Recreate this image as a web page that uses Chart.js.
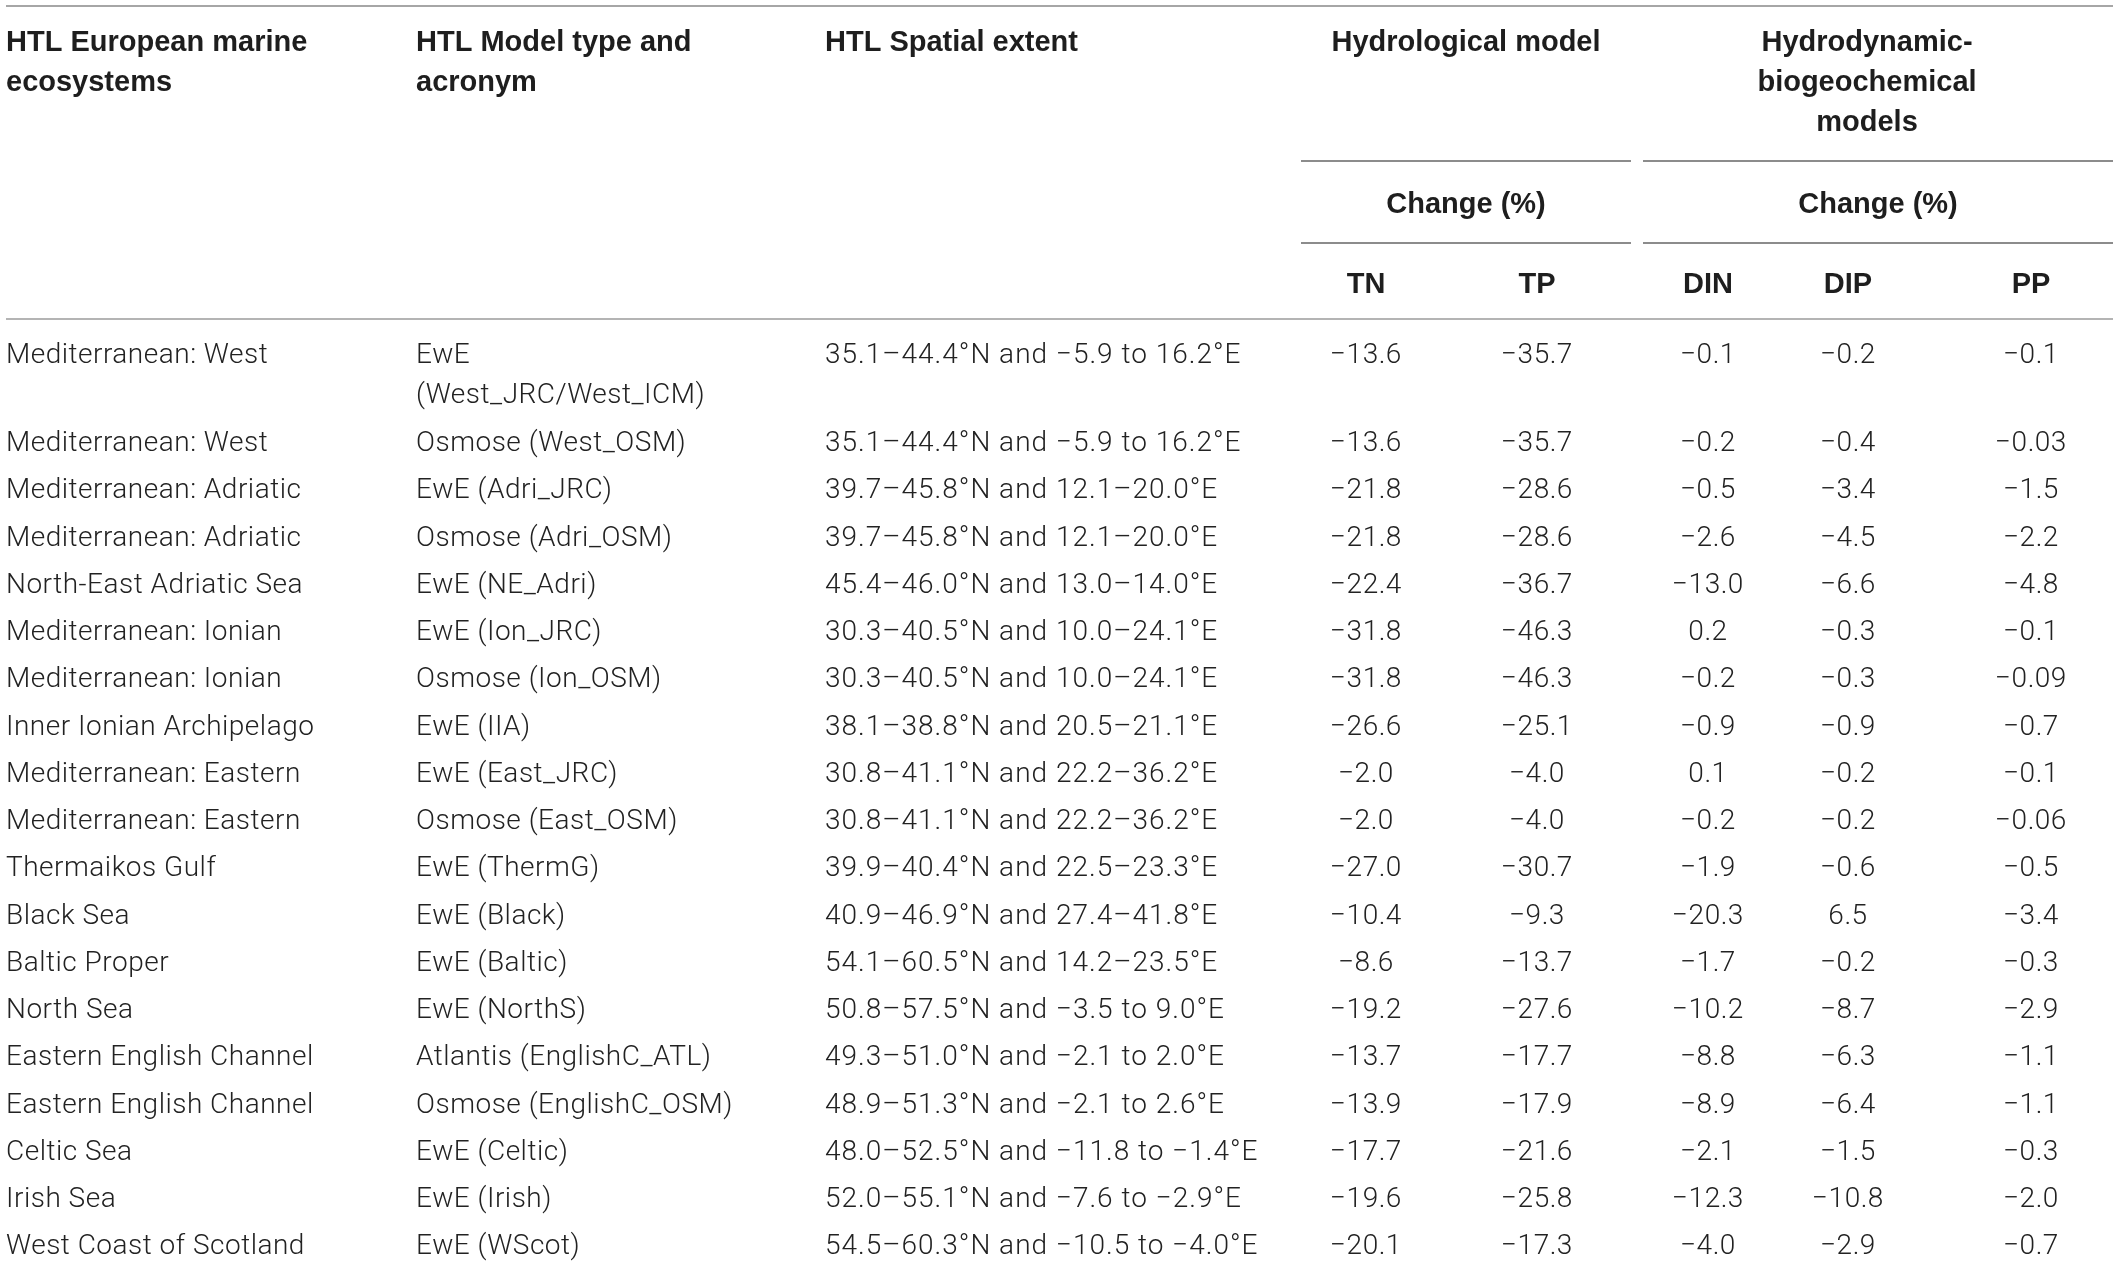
<!DOCTYPE html>
<html>
<head>
<meta charset="utf-8">
<script src="https://cdn.jsdelivr.net/npm/chart.js@4.4.0/dist/chart.umd.min.js"></script>
<style>
  html, body { margin: 0; padding: 0; background: #fff; }
  canvas { display: block; }
</style>
</head>
<body>
<canvas id="tbl" width="2118" height="1267"></canvas>
<script>
// table content
var ecosystems = [
  "Mediterranean: West", "Mediterranean: West", "Mediterranean: Adriatic",
  "Mediterranean: Adriatic", "North-East Adriatic Sea", "Mediterranean: Ionian",
  "Mediterranean: Ionian", "Inner Ionian Archipelago", "Mediterranean: Eastern",
  "Mediterranean: Eastern", "Thermaikos Gulf", "Black Sea", "Baltic Proper",
  "North Sea", "Eastern English Channel", "Eastern English Channel",
  "Celtic Sea", "Irish Sea", "West Coast of Scotland"
];
var models = [
  "EwE\n(West_JRC/West_ICM)", "Osmose (West_OSM)", "EwE (Adri_JRC)",
  "Osmose (Adri_OSM)", "EwE (NE_Adri)", "EwE (Ion_JRC)", "Osmose (Ion_OSM)",
  "EwE (IIA)", "EwE (East_JRC)", "Osmose (East_OSM)", "EwE (ThermG)",
  "EwE (Black)", "EwE (Baltic)", "EwE (NorthS)", "Atlantis (EnglishC_ATL)",
  "Osmose (EnglishC_OSM)", "EwE (Celtic)", "EwE (Irish)", "EwE (WScot)"
];
var extents = [
  "35.1–44.4°N and −5.9 to 16.2°E", "35.1–44.4°N and −5.9 to 16.2°E",
  "39.7–45.8°N and 12.1–20.0°E", "39.7–45.8°N and 12.1–20.0°E",
  "45.4–46.0°N and 13.0–14.0°E", "30.3–40.5°N and 10.0–24.1°E",
  "30.3–40.5°N and 10.0–24.1°E", "38.1–38.8°N and 20.5–21.1°E",
  "30.8–41.1°N and 22.2–36.2°E", "30.8–41.1°N and 22.2–36.2°E",
  "39.9–40.4°N and 22.5–23.3°E", "40.9–46.9°N and 27.4–41.8°E",
  "54.1–60.5°N and 14.2–23.5°E", "50.8–57.5°N and −3.5 to 9.0°E",
  "49.3–51.0°N and −2.1 to 2.0°E", "48.9–51.3°N and −2.1 to 2.6°E",
  "48.0–52.5°N and −11.8 to −1.4°E", "52.0–55.1°N and −7.6 to −2.9°E",
  "54.5–60.3°N and −10.5 to −4.0°E"
];
var tn  = [-13.6, -13.6, -21.8, -21.8, -22.4, -31.8, -31.8, -26.6, -2.0, -2.0, -27.0, -10.4, -8.6, -19.2, -13.7, -13.9, -17.7, -19.6, -20.1];
var tp  = [-35.7, -35.7, -28.6, -28.6, -36.7, -46.3, -46.3, -25.1, -4.0, -4.0, -30.7, -9.3, -13.7, -27.6, -17.7, -17.9, -21.6, -25.8, -17.3];
var din = [-0.1, -0.2, -0.5, -2.6, -13.0, 0.2, -0.2, -0.9, 0.1, -0.2, -1.9, -20.3, -1.7, -10.2, -8.8, -8.9, -2.1, -12.3, -4.0];
var dip = [-0.2, -0.4, -3.4, -4.5, -6.6, -0.3, -0.3, -0.9, -0.2, -0.2, -0.6, 6.5, -0.2, -8.7, -6.3, -6.4, -1.5, -10.8, -2.9];
var pp  = [-0.1, -0.03, -1.5, -2.2, -4.8, -0.1, -0.09, -0.7, -0.1, -0.06, -0.5, -3.4, -0.3, -2.9, -1.1, -1.1, -0.3, -2.0, -0.7];

var columnHeads = [
  "HTL European marine\necosystems", "HTL Model type and\nacronym", "HTL Spatial extent",
  "TN", "TP", "DIN", "DIP", "PP"
];
var groupHeads = ["Hydrological model", "Hydrodynamic-\nbiogeochemical\nmodels"];
var subHeads = ["Change (%)", "Change (%)"];

// layout (canvas units)
var colX = [6, 416, 825, 1366, 1537, 1708, 1848, 2031];
var colAlign = ["left", "left", "left", "center", "center", "center", "center", "center"];
var colSpacing = ["0.5px", "0.5px", "1px", "0.5px", "0.5px", "0.5px", "0.5px", "0.5px"];
var groupX = [1466, 1867];
var subX = [1466, 1878];
var groupSpan = [[1301, 1631], [1643, 2113]];
var bodyFont = "300 28px Roboto, 'Liberation Sans', sans-serif";
var headFont = "bold 29px 'Liberation Sans', Arial, sans-serif";
var lineGap = 40;

function rowBaseline(i) {
  return i === 0 ? 363 : 451 + (i - 1) * 47.25;
}

function fmt(v) {
  var d = (v !== 0 && Math.abs(v) < 0.1) ? 2 : 1;
  var s = Math.abs(v).toFixed(d);
  return v < 0 ? "\u2212" + s : s;
}

var columns = [ecosystems, models, extents, tn, tp, din, dip, pp];

var datasets = columns.map(function(col, c) {
  return {
    label: columnHeads[c],
    data: col.map(function(v, i) { return { x: colX[c], y: rowBaseline(i) }; }),
    texts: col.map(function(v) { return typeof v === "number" ? fmt(v) : v; }),
    align: colAlign[c],
    spacing: colSpacing[c],
    pointRadius: 0,
    showLine: false
  };
});

function drawLines(ctx, text, x, y, align, font, color, spacing) {
  ctx.font = font;
  ctx.fillStyle = color;
  ctx.textAlign = align;
  ctx.textBaseline = "alphabetic";
  ctx.letterSpacing = spacing || "0px";
  text.split("\n").forEach(function(line, k) {
    ctx.fillText(line, x, y + k * lineGap);
  });
}

var tablePlugin = {
  id: "tablePlugin",
  beforeDatasetsDraw: function(chart) {
    var ctx = chart.ctx, xs = chart.scales.x, ys = chart.scales.y;
    ctx.save();
    function rule(x0, x1, y, color) {
      ctx.strokeStyle = color;
      ctx.lineWidth = 2;
      ctx.beginPath();
      ctx.moveTo(xs.getPixelForValue(x0), ys.getPixelForValue(y));
      ctx.lineTo(xs.getPixelForValue(x1), ys.getPixelForValue(y));
      ctx.stroke();
    }
    rule(6, 2113, 6, "#a6a6a6");
    groupSpan.forEach(function(s) {
      rule(s[0], s[1], 161, "#8c8c8c");
      rule(s[0], s[1], 243, "#8c8c8c");
    });
    rule(6, 2113, 319, "#b4b4b4");

    // header texts
    var hc = "#1e1e1e";
    for (var c = 0; c < 3; c++) {
      drawLines(ctx, columnHeads[c], xs.getPixelForValue(colX[c]), ys.getPixelForValue(51), colAlign[c], headFont, hc);
    }
    groupHeads.forEach(function(t, g) {
      drawLines(ctx, t, xs.getPixelForValue(groupX[g]), ys.getPixelForValue(51), "center", headFont, hc);
      drawLines(ctx, subHeads[g], xs.getPixelForValue(subX[g]), ys.getPixelForValue(213), "center", headFont, hc);
    });
    for (var c2 = 3; c2 < columnHeads.length; c2++) {
      drawLines(ctx, columnHeads[c2], xs.getPixelForValue(colX[c2]), ys.getPixelForValue(293), "center", headFont, hc);
    }
    ctx.restore();
  },
  afterDatasetsDraw: function(chart) {
    var ctx = chart.ctx;
    ctx.save();
    chart.data.datasets.forEach(function(ds, d) {
      var meta = chart.getDatasetMeta(d);
      meta.data.forEach(function(pt, i) {
        drawLines(ctx, ds.texts[i], pt.x, pt.y, ds.align, bodyFont, "#222", ds.spacing);
      });
    });
    ctx.restore();
  }
};

new Chart(document.getElementById("tbl"), {
  type: "scatter",
  data: { datasets: datasets },
  options: {
    responsive: false,
    devicePixelRatio: 1,
    animation: false,
    layout: { padding: 0 },
    plugins: { legend: { display: false }, tooltip: { enabled: false } },
    scales: {
      x: { type: "linear", min: 0, max: 2118, display: false },
      y: { type: "linear", min: 0, max: 1267, reverse: true, display: false }
    }
  },
  plugins: [tablePlugin]
});
</script>
</body>
</html>
